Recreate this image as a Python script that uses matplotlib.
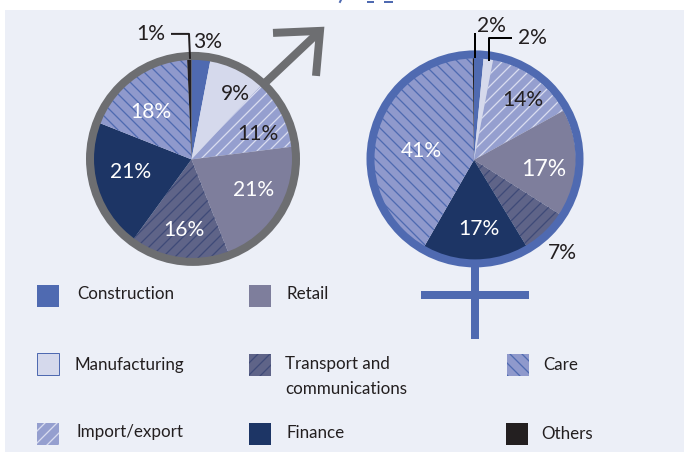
# Pie charts by gender, share of workers per sector

import matplotlib
matplotlib.use("Agg")
import matplotlib.pyplot as plt
from matplotlib.patches import Circle, Rectangle

plt.rcParams["font.family"] = ["Lato", "DejaVu Sans"]
plt.rcParams["hatch.linewidth"] = 1.3

sectors = ["Construction", "Manufacturing", "Import/export", "Retail",
           "Transport and\ncommunications", "Finance", "Care", "Others"]

# wedge sizes as measured, the printed labels are rounded
men_values = [3, 9, 11, 21, 16, 21, 18.3, 0.7]
men_labels = ["3%", "9%", "11%", "21%", "16%", "21%", "18%", "1%"]

women_values = [1.5, 1.5, 14, 17, 7.3, 17, 41.5, 0.2]
women_labels = ["2%", "2%", "14%", "17%", "7%", "17%", "41%", ""]

colors = ["#4f6ab1", "#d5d9ec", "#959fcf", "#7e7e9c",
          "#5f6488", "#1d3565", "#8f99cc", "#231f20"]
hatches = [None, None, "//", None, "//", None, "\\\\", None]
hatch_colors = ["#4f6ab1", "#d5d9ec", "#d8dcef", "#7e7e9c",
                "#3f4a78", "#1d3565", "#4f6ab1", "#231f20"]

GREY = "#6d6e71"
BLUE = "#4f6ab1"
PANEL = "#eceff7"
DARK = "#231f20"

fig = plt.figure(figsize=(684 / 72, 452.2 / 72), dpi=72)
ax = fig.add_axes([0, 0, 1, 1])


def draw_pie(values, center, radius):
    wedges, _ = ax.pie(values, colors=colors, center=center, radius=radius,
                       startangle=270, counterclock=True, frame=True)
    for wedge, hatch, hatch_color, color in zip(wedges, hatches, hatch_colors, colors):
        wedge.set_linewidth(0)
        wedge.set_edgecolor(hatch_color)
        wedge.set_hatch(hatch)
        wedge.set_facecolor(color)


# panel
ax.add_patch(Rectangle((5, 10), 679, 442, color=PANEL, lw=0, zorder=0))

draw_pie(men_values, (191.5, 159.5), 102)
draw_pie(women_values, (474, 160), 102)

# gender symbols
ax.add_patch(Circle((193, 159), 103, fill=False, ec=GREY, lw=8, zorder=3))
ax.plot([265, 318], [83, 33], color=GREY, lw=8, solid_capstyle="butt", zorder=2)
ax.plot([273, 320, 316], [33, 31, 76], color=GREY, lw=8,
        solid_joinstyle="miter", solid_capstyle="butt", zorder=2)

ax.add_patch(Circle((475, 159), 104.5, fill=False, ec=BLUE, lw=8, zorder=3))
ax.plot([475, 475], [266, 339], color=BLUE, lw=8, solid_capstyle="butt", zorder=2)
ax.plot([421, 529], [295, 295], color=BLUE, lw=8, solid_capstyle="butt", zorder=2)

# leader lines
ax.plot([172, 189, 190], [34, 34, 58], color=DARK, lw=2, zorder=4)
ax.plot([475, 475], [34, 57], color="black", lw=2, zorder=4)
ax.plot([511, 489, 489], [38, 38, 60], color="black", lw=2, zorder=4)

# value labels
men_xy = [(208, 42), (235, 94), (258, 134), (254, 190),
          (184, 230), (131, 172), (151, 112), (151, 34)]
men_text = [DARK, DARK, DARK, "white", "white", "white", "white", DARK]
for label, xy, c in zip(men_labels, men_xy, men_text):
    ax.text(xy[0], xy[1], label, color=c, fontsize=21, ha="center", va="center", zorder=5)

women_xy = [(491, 26), (532, 38), (523, 100), (544, 169),
            (562, 253), (479, 229), (421, 151), (0, 0)]
women_text = [DARK, DARK, DARK, "white", DARK, "white", "white", DARK]
women_sizes = [21, 21, 21, 23, 21, 21, 21, 21]
for label, xy, c, size in zip(women_labels, women_xy, women_text, women_sizes):
    ax.text(xy[0], xy[1], label, color=c, fontsize=size, ha="center", va="center", zorder=5)

# legend
swatch_xy = [(37, 285), (37, 353), (37, 423), (249, 285),
             (249, 354), (249, 423), (507, 354), (506, 423)]
text_xy = [(77, 294), (75, 365), (77, 432), (286, 294),
           (285, 376), (286, 433), (543, 365), (541, 434)]
for i, name in enumerate(sectors):
    ax.add_patch(Rectangle(swatch_xy[i], 22, 22, facecolor=colors[i], lw=0,
                           edgecolor=hatch_colors[i], hatch=hatches[i], zorder=2))
    ax.text(text_xy[i][0], text_xy[i][1], name, color=DARK, fontsize=17,
            ha="left", va="center", linespacing=1.7, zorder=5)
ax.add_patch(Rectangle(swatch_xy[1], 22, 22, fill=False, ec=BLUE, lw=1, zorder=3))

# specks left of the unreadable title cut off at the top edge
ax.plot([341, 340], [0, 2], color=BLUE, lw=2)
ax.plot([368, 373], [2, 2], color=BLUE, lw=2)
ax.plot([385, 392], [2, 2], color=BLUE, lw=2)

ax.set_xlim(0, 684)
ax.set_ylim(452, 0)
ax.axis("off")

fig.savefig("out.png", dpi=72, facecolor="white")
